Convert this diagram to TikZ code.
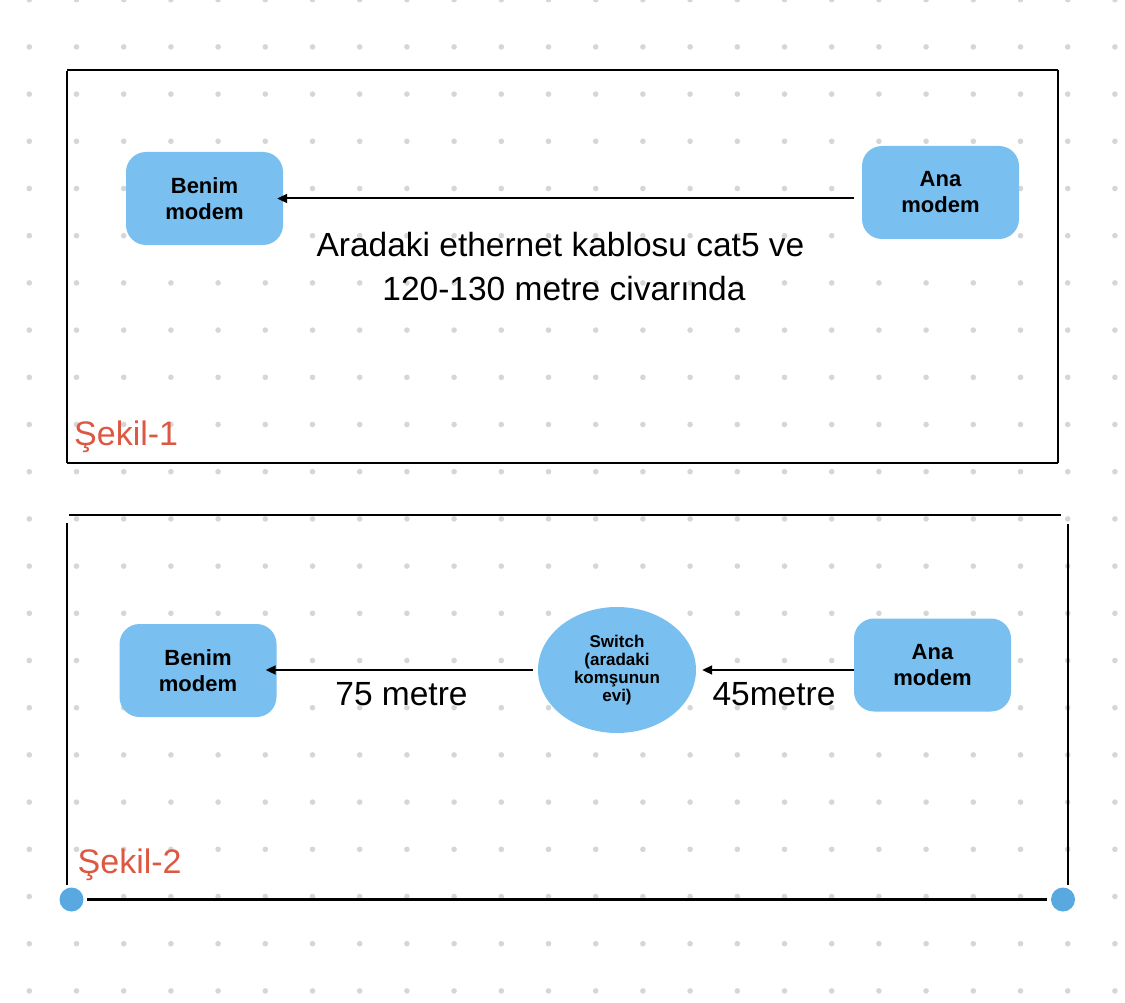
\documentclass[tikz,border=0pt]{standalone}
\usepackage{fontspec}
\setmainfont{Liberation Sans}
\usetikzlibrary{shapes.geometric,arrows.meta}
\definecolor{nodeblue}{RGB}{121,192,241}
\definecolor{handleblue}{RGB}{90,168,224}
\definecolor{dotgray}{RGB}{214,214,214}
\definecolor{sekilred}{RGB}{221,88,66}
\begin{document}
\begin{tikzpicture}[x=1pt,y=-1pt,
  modem/.style={rounded corners=20pt, fill=nodeblue, minimum width=157pt, minimum height=93pt,
    inner sep=0pt, align=center, font=\fontsize{22}{26}\selectfont\bfseries},
  switchnode/.style={ellipse, fill=nodeblue, minimum width=158pt, minimum height=126pt,
    inner sep=0pt, align=center, font=\fontsize{17}{17.8}\selectfont\bfseries},
  lbl/.style={inner sep=0pt, anchor=base, font=\fontsize{33.5}{43}\selectfont},
  sekil/.style={inner sep=0pt, anchor=base west, text=sekilred, font=\fontsize{34}{40}\selectfont},
  frameline/.style={line width=2.5pt},
  conn/.style={line width=2pt, -{Triangle[length=10pt,width=9pt]}},
  handle/.style={circle, fill=handleblue, minimum size=24pt, inner sep=0pt}
]
\useasboundingbox (0,0) rectangle (1125,1003);
\fill[white] (0,0) rectangle (1125,1003);
% dot grid
\foreach \i in {0,...,23}{
  \foreach \j in {0,...,21}{
    \fill[dotgray] ({29.3+47.2*\i},{-0.3+47.2*\j}) circle (2.8pt);
  }
}
% frame 1
\draw[frameline] (67,70) -- (1058,70);
\draw[frameline] (67,71) -- (67,463);
\draw[frameline] (1058,70) -- (1058,463);
\draw[frameline] (67,463) -- (1058,463);
% frame 2
\draw[frameline, line width=2pt] (69,515) -- (1061,515);
\draw[frameline] (67,523) -- (67,885);
\draw[frameline] (1068,524) -- (1068,885);
\node[handle] (h1) at (71.5,899.5) {};
\node[handle] (h2) at (1063,899.5) {};
\draw[frameline] (h1.east) ++(3,0) coordinate (b1) -- (1047,899.5) coordinate (b2);

% figure 1
\node[modem] (benim1) at (204.5,198.5) {Benim\\modem};
\node[modem] (ana1) at (940.5,192.5) {Ana\\modem};
\draw[conn, shorten <=8pt, shorten >=-6pt] (ana1.west |- benim1.east) -- (benim1.east);
\node[lbl] (lab1a) at (560.5,256.5) {Aradaki ethernet kablosu cat5 ve};
\node[lbl] (lab1b) at (564,300.5) {120-130 metre civarında};
\node[sekil] (sek1) at (74,445.5) {Şekil-1};

% figure 2
\node[modem] (benim2) at (198,670.5) {Benim\\modem};
\node[modem] (ana2) at (932.5,665) {Ana\\modem};
\node[switchnode] (sw) at (617,670) {Switch\\(aradaki\\komşunun\\evi)};
\draw[conn, shorten >=6pt] (ana2.west |- sw.east) -- (sw.east);
\draw[conn, shorten <=5pt, shorten >=-11pt] (sw.west) -- (benim2.east |- sw.west);
\node[lbl] (lab2) at (401.5,705) {75 metre};
\node[lbl] (lab3) at (774,705) {45metre};
\node[sekil] (sek2) at (77.5,873.5) {Şekil-2};
\end{tikzpicture}
\end{document}
